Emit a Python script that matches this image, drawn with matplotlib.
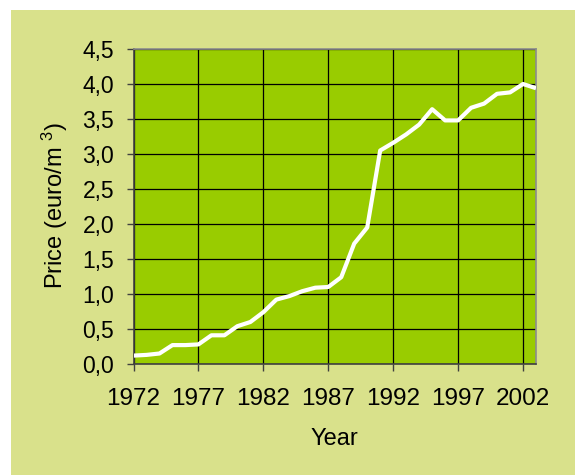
# Precio del agua por m3 - recreacion del grafico
# %%
import matplotlib
matplotlib.use("Agg")
import matplotlib.pyplot as plt
from matplotlib.patches import Rectangle
from matplotlib.ticker import FuncFormatter, MultipleLocator

# Datos --------------------------------------------------------------------
anios = list(range(1972, 2004))
precios = [0.12, 0.13, 0.15, 0.27, 0.27, 0.28, 0.41, 0.41, 0.54, 0.60,
           0.74, 0.92, 0.97, 1.04, 1.09, 1.10, 1.24, 1.72, 1.95, 3.05,
           3.16, 3.28, 3.42, 3.64, 3.48, 3.48, 3.66, 3.72, 3.86, 3.88,
           4.00, 3.94]
ticks_x = [1972, 1977, 1982, 1987, 1992, 1997, 2002]

# Estilo -------------------------------------------------------------------
plt.rcParams['font.family'] = ['Liberation Sans', 'DejaVu Sans']
plt.rcParams['mathtext.fontset'] = 'custom'
plt.rcParams['mathtext.rm'] = 'Liberation Sans'
plt.rcParams['mathtext.default'] = 'regular'

W, H = 575, 475
fig = plt.figure(figsize=(W / 100, H / 100), dpi=100, facecolor='white')

# fondo verde claro del grafico
fig.patches.append(Rectangle((11 / W, 0), 1 - 11 / W, 1 - 10 / H,
                             transform=fig.transFigure, facecolor='#D9E18B',
                             edgecolor='none', zorder=-10))

ax = fig.add_axes([133.5 / W, 1 - 364 / H, (536 - 133.5) / W, (364 - 49) / H])
ax.set_facecolor('#99CC00')

ax.plot(anios, precios, color='white', lw=3, solid_joinstyle='round',
        solid_capstyle='butt', zorder=3)

ax.set_xlim(1972, 2003)
ax.set_ylim(0, 4.5)
ax.set_xticks(ticks_x)
ax.yaxis.set_major_locator(MultipleLocator(0.5))
ax.yaxis.set_major_formatter(FuncFormatter(lambda v, p: f"{v:.1f}".replace('.', ',')))

ax.grid(True, color='black', lw=0.9, zorder=1)
ax.set_axisbelow(True)

for s in ['top', 'right']:
    ax.spines[s].set_color('#8C8C8C')
    ax.spines[s].set_linewidth(1.2)
for s in ['left', 'bottom']:
    ax.spines[s].set_color('#404040')
    ax.spines[s].set_linewidth(1.2)

ax.tick_params(axis='y', length=5, width=1, color='#404040', pad=9, labelsize=16.5)
ax.tick_params(axis='x', length=5, width=1, color='#404040', pad=12, labelsize=17.5)

fig.text(55 / W, 1 - 206 / H, 'Price (euro/m $^{3}$)', rotation=90,
         ha='center', va='center', fontsize=17)
fig.text(334.5 / W, 1 - 439 / H, 'Year', ha='center', va='center', fontsize=17)

fig.savefig('out.png', dpi=100, facecolor='white')
